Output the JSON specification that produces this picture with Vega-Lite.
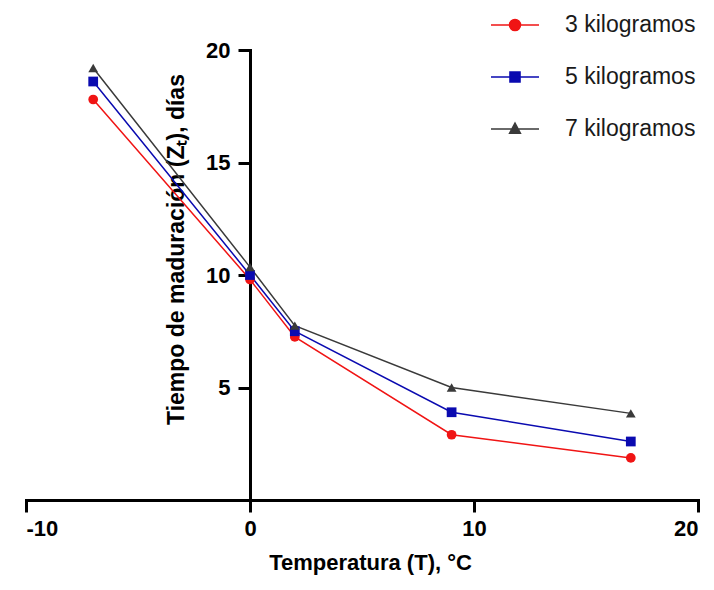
{
  "$schema": "https://vega.github.io/schema/vega-lite/v6.json",
  "autosize": "none",
  "padding": {"left": 26, "top": 50, "right": 16, "bottom": 90},
  "width": 672,
  "height": 450,
  "background": "white",
  "config": {
    "view": {"stroke": null},
    "font": "Liberation Sans",
    "axis": {"grid": false, "domainColor": "black", "tickColor": "black", "domainWidth": 3, "tickWidth": 3, "tickSize": 12, "labelFont": "Liberation Sans", "labelFontWeight": "bold", "labelFontSize": 22, "labelColor": "black", "titleFont": "Liberation Sans", "titleFontWeight": "bold", "titleFontSize": 22, "titleColor": "black", "zindex": 1, "domainCap": "square"}
  },
  "data": {"values": [
    {"T": -7, "Z": 17.8, "serie": "3 kilogramos"},
    {"T": 0, "Z": 9.8, "serie": "3 kilogramos"},
    {"T": 2, "Z": 7.25, "serie": "3 kilogramos"},
    {"T": 9, "Z": 2.9, "serie": "3 kilogramos"},
    {"T": 17, "Z": 1.87, "serie": "3 kilogramos"},
    {"T": -7, "Z": 18.6, "serie": "5 kilogramos"},
    {"T": 0, "Z": 10.0, "serie": "5 kilogramos"},
    {"T": 2, "Z": 7.5, "serie": "5 kilogramos"},
    {"T": 9, "Z": 3.9, "serie": "5 kilogramos"},
    {"T": 17, "Z": 2.6, "serie": "5 kilogramos"},
    {"T": -7, "Z": 19.2, "serie": "7 kilogramos"},
    {"T": 0, "Z": 10.35, "serie": "7 kilogramos"},
    {"T": 2, "Z": 7.75, "serie": "7 kilogramos"},
    {"T": 9, "Z": 5.0, "serie": "7 kilogramos"},
    {"T": 17, "Z": 3.85, "serie": "7 kilogramos"}
  ]},
  "encoding": {
    "x": {"field": "T", "type": "quantitative", "scale": {"domain": [-10, 20], "nice": false, "zero": false},
      "axis": {"values": [-10, 0, 10, 20], "labelExpr": "'' + datum.value", "title": "Temperatura (T), °C", "labelPadding": 6, "titleX": 344, "titleY": 69, "titleBaseline": "alphabetic", "titleAnchor": null}},
    "y": {"field": "Z", "type": "quantitative", "scale": {"domain": [0, 20], "nice": false},
      "axis": {"values": [5, 10, 15, 20], "offset": -224, "title": "Tiempo de maduración (Zₜ), días", "titleFontSize": 23, "labelPadding": 8, "titleX": -62, "titleY": 199, "titleBaseline": "bottom"}}
  },
  "layer": [
    {"mark": {"type": "line", "strokeWidth": 1.5},
      "encoding": {
        "color": {"field": "serie", "type": "nominal", "scale": {"domain": ["3 kilogramos", "5 kilogramos", "7 kilogramos"], "range": ["#f01414", "#0a0ab0", "#3a3a3a"]}}
      }},
    {"mark": {"type": "point", "filled": true, "opacity": 1, "size": 95},
      "encoding": {
        "color": {"field": "serie", "type": "nominal", "scale": {"domain": ["3 kilogramos", "5 kilogramos", "7 kilogramos"], "range": ["#f01414", "#0a0ab0", "#3a3a3a"]},
          "legend": {"title": null, "orient": "none", "legendX": 476, "legendY": -38, "padding": 0, "symbolSize": 576, "labelOffset": 37, "rowPadding": 27, "labelFontSize": 23, "labelFont": "Liberation Sans", "labelColor": "#1a1a1a",
            "symbolType": {"expr": "datum.value === '3 kilogramos' ? 'M-2,0H2M0.46,0A0.46,0.46,0,1,1,-0.46,0A0.46,0.46,0,1,1,0.46,0Z' : datum.value === '5 kilogramos' ? 'M-2,0H2M-0.42,-0.42H0.42V0.42H-0.42Z' : 'M-2,0H2M0,-0.5L0.45,0.35H-0.45Z'"},
            "symbolStrokeColor": {"expr": "scale('color', datum.value)"},
            "symbolFillColor": {"expr": "scale('color', datum.value)"},
            "symbolStrokeWidth": 1.5,
            "symbolOpacity": 1}},
        "shape": {"field": "serie", "type": "nominal", "scale": {"domain": ["7 kilogramos", "5 kilogramos", "3 kilogramos"], "range": ["triangle-up", "square", "circle"]}, "legend": null}
      }}
  ]
}
